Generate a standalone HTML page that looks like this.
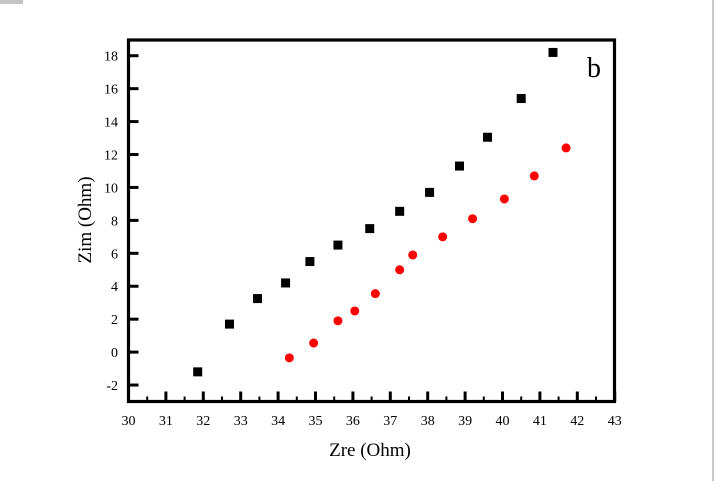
<!DOCTYPE html>
<html><head><meta charset="utf-8"><style>
body{margin:0;background:#fff;width:717px;height:481px;overflow:hidden}
svg text{font-family:"Liberation Serif",serif}
</style></head><body>
<svg width="717" height="481">
<rect x="0" y="0" width="23" height="4" fill="#c4c4c4"/>
<rect x="712" y="0" width="2" height="481" fill="#c8c8c8"/>
<g id="g"></g>
</svg>
<script>
const xTicks=[30,31,32,33,34,35,36,37,38,39,40,41,42,43];
const yTicks=[-2,0,2,4,6,8,10,12,14,16,18];
const blackX=[31.85,32.7,33.45,34.2,34.85,35.6,36.45,37.25,38.05,38.85,39.6,40.5,41.35];
const blackY=[-1.2,1.7,3.25,4.2,5.5,6.5,7.5,8.55,9.7,11.3,13.05,15.4,18.2];
const redX=[34.3,34.95,35.6,36.05,36.6,37.25,37.6,38.4,39.2,40.05,40.85,41.7];
const redY=[-0.35,0.55,1.9,2.5,3.55,5.0,5.9,7.0,8.1,9.3,10.7,12.4];
const NS="http://www.w3.org/2000/svg",g=document.getElementById('g');
const X=v=>128.5+(v-30)*37.4, Y=v=>352.1-v*16.465;
function mk(t,a,txt){const e=document.createElementNS(NS,t);for(const k in a)e.setAttribute(k,a[k]);if(txt!=null)e.textContent=txt;g.appendChild(e);return e;}
const L=128.5,R=614.5,T=40,B=401.5;
let fr=mk('rect',{x:L,y:T,width:R-L,height:B-T,fill:'none',stroke:'#000','stroke-width':3.2});


xTicks.forEach((v,i)=>{
  let t=mk('line',{x1:X(v),x2:X(v),y1:B,y2:B-10,stroke:'#000','stroke-width':3});
  
  
  if(i<xTicks.length-1){let m=mk('line',{x1:X(v+0.5),x2:X(v+0.5),y1:B,y2:B-5,stroke:'#000','stroke-width':2});
  
  }
  let l=mk('text',{x:X(v),y:425,'font-size':14,'text-anchor':'middle'},v);
  
  
});
yTicks.forEach(v=>{
  let t=mk('line',{x1:L,x2:L+10,y1:Y(v),y2:Y(v),stroke:'#000','stroke-width':3});
  
  
  let l=mk('text',{x:118,y:Y(v)+5,'font-size':14,'text-anchor':'end'},v);
  
  
});
blackX.forEach((v,i)=>{
  let r=mk('rect',{x:X(v)-4.5,y:Y(blackY[i])-4.5,width:9,height:9,fill:'#000'});
  
  
});
redX.forEach((v,i)=>{
  let c=mk('circle',{cx:X(v),cy:Y(redY[i]),r:4.5,fill:'#f00'});
  
  
});
let xt=mk('text',{x:370,y:456,'font-size':19,'text-anchor':'middle'},'Zre (Ohm)');


let yt=mk('text',{x:0,y:0,'font-size':19,'text-anchor':'middle',transform:'translate(91,220) rotate(-90)'},'Zim (Ohm)');


let b=mk('text',{x:594,y:77,'font-size':28,'text-anchor':'middle'},'b');


</script>
</body></html>
